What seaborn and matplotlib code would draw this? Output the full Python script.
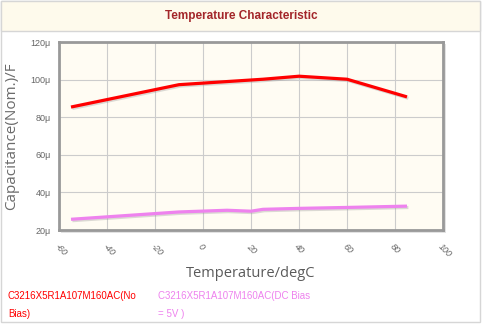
import matplotlib
matplotlib.use("Agg")
import matplotlib.pyplot as plt
import matplotlib.patheffects as pe
from matplotlib.patches import Rectangle
import seaborn as sns
import pandas as pd

# Capacitance vs temperature, two bias conditions
temp_no_bias = [-55, -10, 25, 40, 60, 85]
cap_no_bias = [85.4, 97.3, 100.2, 101.8, 100.2, 90.8]

temp_dc_bias = [-55, -10, 10, 20, 25, 40, 60, 85]
cap_dc_bias = [25.7, 29.6, 30.5, 30.0, 31.0, 31.5, 32.0, 32.7]

series_names = ["C3216X5R1A107M160AC(No\nBias)",
                "C3216X5R1A107M160AC(DC Bias\n= 5V )"]
series_colors = ["#ff0000", "#ee82ee"]

x_ticks = [-60, -40, -20, 0, 20, 40, 60, 80, 100]
y_ticks = [20, 40, 60, 80, 100, 120]

df = pd.concat([
    pd.DataFrame({"temp": temp_no_bias, "cap": cap_no_bias, "series": series_names[0]}),
    pd.DataFrame({"temp": temp_dc_bias, "cap": cap_dc_bias, "series": series_names[1]}),
])

sns.set_style("white")
plt.rcParams["font.family"] = ["Liberation Sans", "DejaVu Sans"]

fig = plt.figure(figsize=(4.83, 3.24), dpi=100)
W, H = 483, 324

def px(x, y, w, h):
    return (x / W, 1 - (y + h) / H, w / W, h / H)

def box(x, y, w, h, **kw):
    b = px(x, y, w, h)
    fig.add_artist(Rectangle(b[:2], b[2], b[3], transform=fig.transFigure, **kw))

# panel frame and title bar
box(1, 1, 479, 321, facecolor="white", edgecolor="#d6d6d6", lw=1, zorder=-3)
box(1, 1, 479, 30, facecolor="#fefaec", edgecolor="#d6d6d6", lw=1, zorder=-2)
fig.text(241 / W, 1 - 16 / H, "Temperature Characteristic", ha="center", va="center",
         fontsize=8.5, fontweight="bold", color="#a3262a")

# plot area shadow
box(61, 44, 385, 189, facecolor="#e2e2e2", edgecolor="none", zorder=-1)

ax = fig.add_axes(px(59, 42, 384, 188))
ax.set_facecolor("#fffcf3")

sns.lineplot(data=df, x="temp", y="cap", hue="series", palette=series_colors,
             hue_order=series_names, ax=ax, lw=2.3, legend=False, sort=False,
             estimator=None)
for ln in ax.lines:
    ln.set_path_effects([pe.SimpleLineShadow(offset=(1, -1), shadow_color="#999999", alpha=0.35),
                         pe.Normal()])
    ln.set_solid_capstyle("butt")

ax.set_xlim(-60, 100)
ax.set_ylim(20, 120)
ax.set_xticks(x_ticks)
ax.set_yticks(y_ticks)
ax.set_xticklabels([str(v) for v in x_ticks], rotation=-45, ha="left", va="top",
                   fontsize=6.5, color="#666666", fontstyle="italic", rotation_mode="anchor")
ax.set_yticklabels([f"{v}μ" for v in y_ticks], fontsize=6.5, color="#666666")
ax.grid(True, color="#cccccc", lw=0.8)
ax.set_axisbelow(True)
for s in ax.spines.values():
    s.set_color("#999999")
    s.set_linewidth(2)
ax.tick_params(axis="both", length=4, width=0.8, color="#999999", pad=2)
ax.tick_params(axis="x", pad=5)

ax.set_xlabel("Temperature/degC", fontsize=10.5, color="#5a5a5a", family=["Open Sans", "DejaVu Sans"],
              labelpad=5)
ax.set_ylabel("Capacitance(Nom.)/F", fontsize=11, color="#6a6a6a", family=["Open Sans", "DejaVu Sans"],
              labelpad=8)

# legend text under the chart
fig.text(8 / W, 1 - 296 / H, "C3216X5R1A107M160AC(No", color=series_colors[0], fontsize=7, va="center")
fig.text(8 / W, 1 - 314 / H, "Bias)", color=series_colors[0], fontsize=7, va="center")
fig.text(158 / W, 1 - 296 / H, "C3216X5R1A107M160AC(DC Bias", color=series_colors[1], fontsize=7, va="center")
fig.text(158 / W, 1 - 314 / H, "= 5V )", color=series_colors[1], fontsize=7, va="center")

fig.savefig("out.png", dpi=100)
